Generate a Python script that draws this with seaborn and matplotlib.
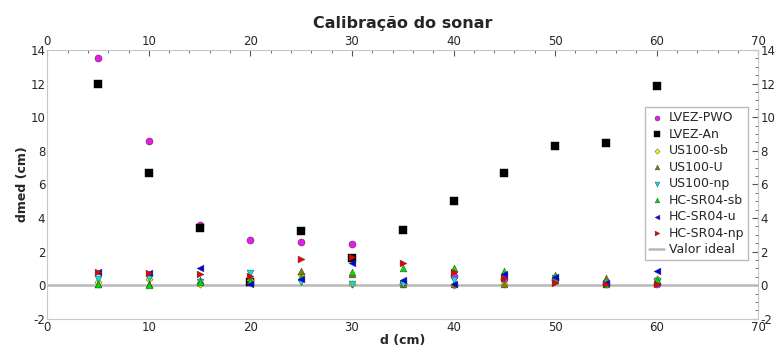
import numpy as np
import pandas as pd
import matplotlib
matplotlib.use("Agg")
import matplotlib.pyplot as plt
import seaborn as sns
from matplotlib.ticker import MultipleLocator

# === dados ===
d = [5, 10, 15, 20, 25, 30, 35, 40, 45, 50, 55, 60]

lvez_pwo = [13.5, 8.6, 3.6, 2.7, 2.6, 2.45, 0.15, 0.55, 0.4, 0.35, 0.1, 0.05]
lvez_an = [12.0, 6.7, 3.4, 0.2, 3.2, 1.65, 3.3, 5.0, 6.7, 8.3, 8.45, 11.85]
us100_sb = [0.2, 0.35, 0.1, 0.3, 0.7, 0.05, 0.1, 0.0, 0.05, 0.3, 0.2, 0.35]
us100_u = [0.1, 0.05, 0.3, 0.3, 0.85, 0.7, 0.1, 0.05, 0.05, 0.35, 0.45, 0.2]
us100_np = [0.4, 0.45, 0.2, 0.75, 0.2, 0.05, 0.1, 0.3, 0.5, 0.45, 0.15, 0.25]
hc_sb = [0.05, 0.0, 0.2, 0.25, 0.5, 0.8, 1.05, 1.05, 0.85, 0.6, 0.1, 0.3]
hc_u = [0.8, 0.75, 1.0, 0.1, 0.35, 1.3, 0.3, 0.1, 0.65, 0.5, 0.15, 0.85]
hc_np = [0.8, 0.75, 0.7, 0.55, 1.55, 1.7, 1.3, 0.8, 0.45, 0.15, 0.1, 0.1]

series = {
    "LVEZ-PWO": lvez_pwo,
    "LVEZ-An": lvez_an,
    "US100-sb": us100_sb,
    "US100-U": us100_u,
    "US100-np": us100_np,
    "HC-SR04-sb": hc_sb,
    "HC-SR04-u": hc_u,
    "HC-SR04-np": hc_np,
}
cores = {
    "LVEZ-PWO": "#e81ce8",
    "LVEZ-An": "#000000",
    "US100-sb": "#ffff00",
    "US100-U": "#7f7f00",
    "US100-np": "#00e5e5",
    "HC-SR04-sb": "#00dd00",
    "HC-SR04-u": "#0000ee",
    "HC-SR04-np": "#ee0000",
}
marcadores = {
    "LVEZ-PWO": "o",
    "LVEZ-An": "s",
    "US100-sb": "D",
    "US100-U": "^",
    "US100-np": "v",
    "HC-SR04-sb": "^",
    "HC-SR04-u": "<",
    "HC-SR04-np": ">",
}
tamanhos = {"LVEZ-PWO": 26, "LVEZ-An": 36, "US100-sb": 14}

df = pd.DataFrame(
    [(x, y, nome) for nome, vals in series.items() for x, y in zip(d, vals)],
    columns=["d", "dmed", "sensor"],
)

# === gráfico ===
sns.set_style("white")
plt.rcParams["font.family"] = ["DejaVu Sans"]
plt.rcParams["axes.unicode_minus"] = False

fig = plt.figure(figsize=(7.76, 3.47), dpi=100)
ax = fig.add_axes([0.061, 0.081, 0.916, 0.775])

ax.axhline(0, color="#b8b8b8", lw=1.8, zorder=1, label="Valor ideal")

for nome in series:
    sub = df[df["sensor"] == nome]
    sns.scatterplot(
        data=sub, x="d", y="dmed", ax=ax, color=cores[nome],
        marker=marcadores[nome], s=tamanhos.get(nome, 24),
        edgecolor="#333333" if nome != "LVEZ-An" else "black",
        linewidth=0.3, label=nome, zorder=3,
    )

ax.set_xlim(0, 70)
ax.set_ylim(-2, 14)
ax.xaxis.set_major_locator(MultipleLocator(10))
ax.xaxis.set_minor_locator(MultipleLocator(2))
ax.yaxis.set_major_locator(MultipleLocator(2))
ax.yaxis.set_minor_locator(MultipleLocator(0.5))
ax.tick_params(which="both", direction="in", top=True, right=True,
               labeltop=True, labelright=True, color="#555555",
               labelsize=8.5, pad=1.5)
ax.tick_params(which="major", length=4)
ax.tick_params(which="minor", length=2)
for sp in ax.spines.values():
    sp.set_color("#c8c8c8")

ax.set_xlabel("d (cm)", fontsize=9, fontweight="bold", labelpad=0)
ax.set_ylabel("dmed (cm)", fontsize=9, fontweight="bold", labelpad=1)
ax.text(0.5, 1.098, "Calibração do sonar", transform=ax.transAxes,
        ha="center", va="center", fontsize=11.5, fontweight="bold")

h, l = ax.get_legend_handles_labels()
ordem = list(series) + ["Valor ideal"]
hl = dict(zip(l, h))
leg = ax.legend([hl[k] for k in ordem], ordem, loc="upper right",
                bbox_to_anchor=(0.995, 0.81), fontsize=9, frameon=True,
                fancybox=False, edgecolor="#aaaaaa", handlelength=1.2,
                handletextpad=0.4, borderpad=0.3, labelspacing=0.28,
                markerscale=0.7)

fig.savefig("out.png", dpi=100)
